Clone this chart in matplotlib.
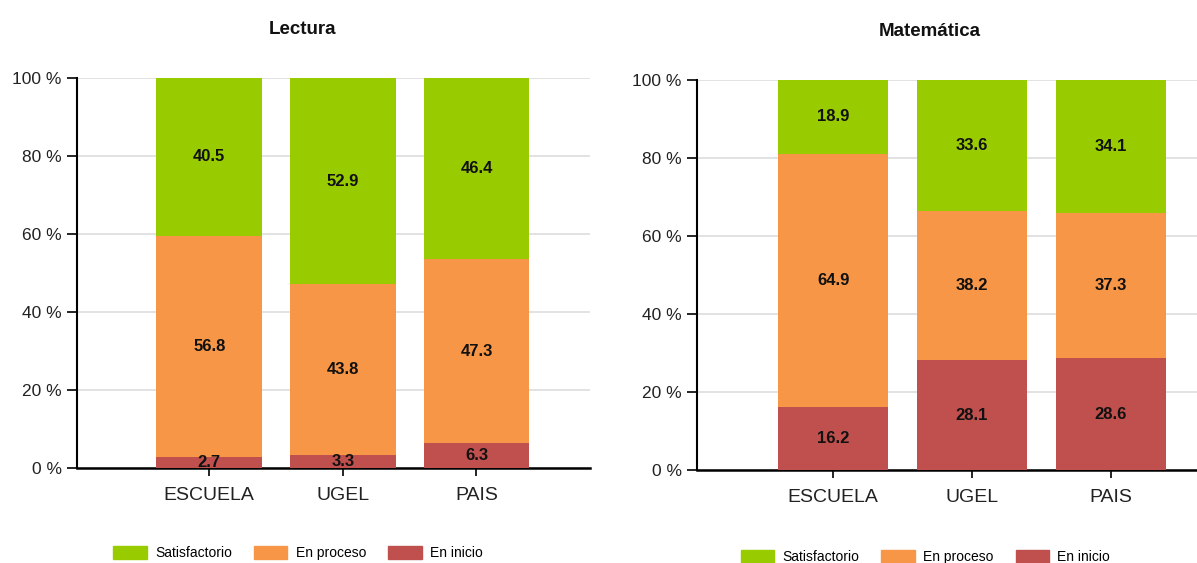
import matplotlib
matplotlib.use("Agg")
import matplotlib.pyplot as plt
from matplotlib.patches import Patch
from matplotlib import font_manager

categories = ["ESCUELA", "UGEL", "PAIS"]
series_names = ["Satisfactorio", "En proceso", "En inicio"]

lectura_inicio = [2.7, 3.3, 6.3]
lectura_proceso = [56.8, 43.8, 47.3]
lectura_satisf = [40.5, 52.9, 46.4]

mate_inicio = [16.2, 28.1, 28.6]
mate_proceso = [64.9, 38.2, 37.3]
mate_satisf = [18.9, 33.6, 34.1]

yticks = [0, 20, 40, 60, 80, 100]
ytick_labels = ["0 %", "20 %", "40 %", "60 %", "80 %", "100 %"]

c_green = "#99CC00"
c_orange = "#F79646"
c_red = "#C0504D"

avail = {f.name for f in font_manager.fontManager.ttflist}
narrow = "Liberation Sans Narrow" if "Liberation Sans Narrow" in avail else "Liberation Sans"
plt.rcParams["font.family"] = [narrow, "DejaVu Sans"]

fig = plt.figure(figsize=(11.97, 5.63), dpi=100)

def draw(ax, title, title_x, inicio, proceso, satisf, xlim):
    x = list(range(len(categories)))
    w = 0.79
    ax.bar(x, inicio, width=w, color=c_red, zorder=3)
    ax.bar(x, proceso, width=w, bottom=inicio, color=c_orange, zorder=3)
    b2 = [a + b for a, b in zip(inicio, proceso)]
    ax.bar(x, satisf, width=w, bottom=b2, color=c_green, zorder=3)
    for i in x:
        ax.text(i, inicio[i] / 2, f"{inicio[i]}", ha="center", va="center",
                fontsize=12, fontweight="bold", color="#111111", zorder=5)
        ax.text(i, inicio[i] + proceso[i] / 2, f"{proceso[i]}", ha="center", va="center",
                fontsize=12, fontweight="bold", color="#111111", zorder=5)
        ax.text(i, b2[i] + satisf[i] / 2, f"{satisf[i]}", ha="center", va="center",
                fontsize=12, fontweight="bold", color="#111111", zorder=5)
    ax.set_ylim(0, 100)
    ax.set_xlim(*xlim)
    ax.set_yticks(yticks)
    ax.set_yticklabels(ytick_labels, fontsize=12.5, color="#222222")
    ax.set_xticks(x)
    ax.set_xticklabels(categories, fontsize=14, color="#222222")
    ax.yaxis.grid(True, color="#dddddd", linewidth=1.2, zorder=0)
    ax.set_axisbelow(True)
    for s in ["top", "right"]:
        ax.spines[s].set_visible(False)
    ax.spines["left"].set_linewidth(1.5)
    ax.spines["bottom"].set_linewidth(1.8)
    ax.tick_params(axis="y", length=7, width=1.2, pad=4)
    ax.tick_params(axis="x", length=6, width=1.2, pad=8)
    ax.set_title(title, x=title_x, fontsize=13.5, fontweight="bold", pad=32, color="#111111")

ax1 = fig.add_axes([0.0643, 0.1687, 0.4286, 0.6928])
draw(ax1, "Lectura", 0.44, lectura_inicio, lectura_proceso, lectura_satisf, (-0.99, 2.85))
ax2 = fig.add_axes([0.5823, 0.1652, 0.4177, 0.6927])
draw(ax2, "Matemática", 0.466, mate_inicio, mate_proceso, mate_satisf, (-0.98, 2.62))

handles = [Patch(color=c_green), Patch(color=c_orange), Patch(color=c_red)]
for cx, cy in [(0.249, 0.018), (0.773, 0.011)]:
    fig.legend(handles, series_names, loc="center", bbox_to_anchor=(cx, cy), ncol=3,
               frameon=False, fontsize=10, handlelength=2.4, handleheight=1.1,
               columnspacing=1.6, handletextpad=0.6)

fig.savefig("out.png", dpi=100)
